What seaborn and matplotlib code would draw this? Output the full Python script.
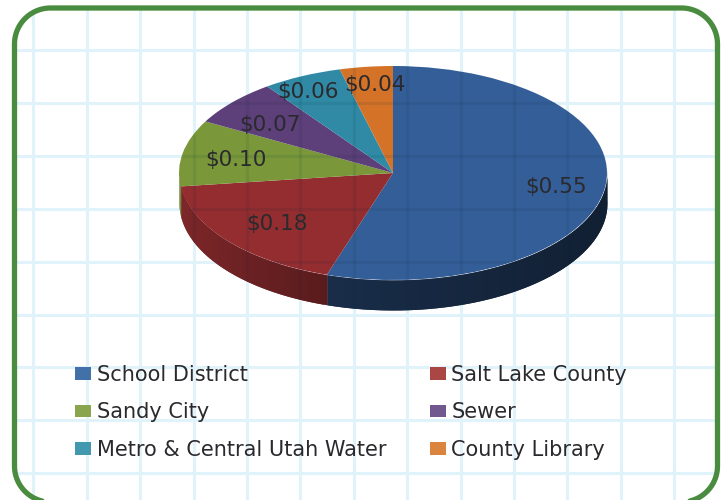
import numpy as np
import matplotlib.pyplot as plt
import seaborn as sns
from matplotlib.colors import to_rgb
from matplotlib.patches import Patch, PathPatch
from matplotlib.path import Path

# data
categories = ["School District", "Salt Lake County", "Sandy City", "Sewer",
              "Metro & Central Utah Water", "County Library"]
values = [0.55, 0.18, 0.10, 0.07, 0.06, 0.04]

top_colors = ["#345E98", "#932D30", "#7A983A", "#5D3F7A", "#308AA5", "#D47228"]
legend_colors = ["#4271A9", "#AA4643", "#89A54E", "#71588F", "#4198AF", "#DB843D"]

# label centres, in pixels of the picture
label_xy = [(556, 187), (277, 224), (236, 160), (270, 125), (308, 92), (375, 85)]

sns.set_theme(style="white")
plt.rcParams["font.family"] = ["DejaVu Sans"]

W, H = 725, 500
fig = plt.figure(figsize=(W / 100, H / 100), dpi=100)

# background in pixel coordinates
bg = fig.add_axes([0, 0, 1, 1])
bg.set_xlim(0, W)
bg.set_ylim(H, 0)
bg.axis("off")


def rounded_outline(left, top, right, bottom, r):
    # plain polyline, bezier corners go wrong when the box runs off the canvas
    # starts on the bottom side so the seam is off the picture
    corners = [(left + r, bottom - r, 90), (left + r, top + r, 180),
               (right - r, top + r, 270), (right - r, bottom - r, 360)]
    pts = []
    for cx, cy, start in corners:
        a = np.radians(np.linspace(start, start + 90, 30))
        pts.append(np.column_stack([cx + r * np.cos(a), cy + r * np.sin(a)]))
    pts = np.vstack(pts)
    return np.vstack([pts, pts[:1]])


outline_pts = rounded_outline(14.5, 8, 717.5, 502, 36)
frame = PathPatch(Path(outline_pts), transform=bg.transData, fc="none", ec="none")
bg.add_patch(frame)
bg.plot(outline_pts[:, 0], outline_pts[:, 1], color="#4A8C3F", lw=3.8, zorder=5,
        solid_joinstyle="round", solid_capstyle="round")

grid_x = 33.5 + 53.4 * np.arange(13)
grid_y = 50 + 52.9 * np.arange(9)
for gx in grid_x:
    ln = bg.axvline(gx, color="#E0F2FA", lw=2.2, zorder=1)
    ln.set_clip_path(frame)
for gy in grid_y:
    ln = bg.axhline(gy, color="#E0F2FA", lw=2.2, zorder=1)
    ln.set_clip_path(frame)
bg.set_xlim(0, W)
bg.set_ylim(H, 0)

# pie, squashed to an ellipse by its own axes
cx, cy = 393, 173
rx, ry, depth = 214, 107, 30
ax = fig.add_axes([(cx - rx) / W, (H - cy - ry - depth) / H, 2 * rx / W, (2 * ry + depth) / H])
ax.patch.set_alpha(0)
ax.pie(values, colors=top_colors, startangle=90, counterclock=False, radius=1,
       wedgeprops={"linewidth": 0})
ax.set_aspect("auto")
ax.set_xlim(-1, 1)
ax.set_ylim(-1 - depth / ry, 1)
d = depth / ry

# side wall, cut in strips so it can get darker to the right
edges = np.cumsum([0] + values) * 2 * np.pi
for i, col in enumerate(top_colors):
    t = np.linspace(edges[i], edges[i + 1], 80)
    step = t[1] - t[0]
    for a in t[:-1]:
        if a + step < np.pi / 2 or a > 3 * np.pi / 2:
            continue
        # each strip runs a bit into the next one, this hides the seams
        end = min(a + 2 * step, edges[i + 1])
        tt = np.linspace(a, end, 3)
        x = np.sin(tt)
        y = np.cos(tt)
        if i == 0:
            f = np.interp(x.mean(), [-0.31, 1], [0.48, 0.33])
        else:
            f = np.interp(x.mean(), [-1, -0.31], [0.85, 0.6])
        c = np.array(to_rgb(col)) * f
        ax.fill_between(x, y - d, y, color=c, lw=0, zorder=0)

over = fig.add_axes([0, 0, 1, 1])
over.set_xlim(0, W)
over.set_ylim(H, 0)
over.axis("off")

# grid shows faintly through the pie, only where a line crosses it
for gx in grid_x:
    u = (gx - cx) / rx
    if abs(u) < 1:
        half = ry * np.sqrt(1 - u ** 2)
        over.vlines(gx, cy - half, cy + half + depth, color="#0A2A40", lw=2.2, alpha=0.09)
for gy in grid_y:
    u = (gy - cy) / ry
    if abs(u) < 1:
        half = rx * np.sqrt(1 - u ** 2)
        over.hlines(gy, cx - half, cx + half, color="#0A2A40", lw=2.2, alpha=0.09)

for v, (lx, ly) in zip(values, label_xy):
    over.text(lx, ly, f"${v:.2f}", ha="center", va="center", fontsize=15.5,
              color="#2A2A2E")

# legend, filled by columns so the rows read like the original
order = [0, 2, 4, 1, 3, 5]
handles = [Patch(fc=legend_colors[i], ec="none", label=categories[i]) for i in order]
over.legend(handles=handles, ncol=2, loc="upper left",
            bbox_to_anchor=(75 / W, 1 - 365 / H), frameon=False,
            prop={"family": "DejaVu Sans", "size": 15},
            handlelength=0.76, handleheight=0.57, handletextpad=0.28,
            labelspacing=0.83, columnspacing=2.09, labelcolor="#2A2A2E",
            borderpad=0, borderaxespad=0)

fig.savefig("out.png", dpi=100)
